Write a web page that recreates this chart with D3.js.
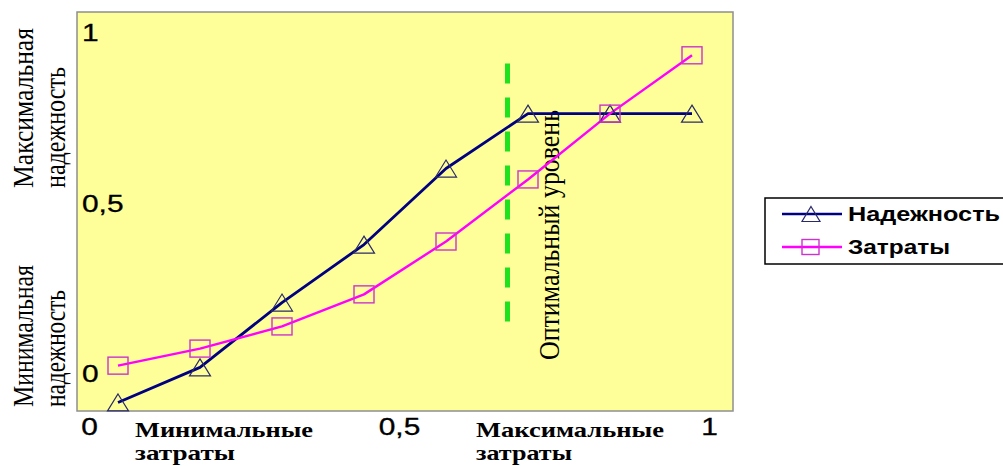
<!DOCTYPE html>
<html>
<head>
<meta charset="utf-8">
<script src="https://cdn.jsdelivr.net/npm/d3@7"></script>
<style>
  html, body { margin: 0; padding: 0; background: #ffffff; }
  svg { display: block; }
</style>
</head>
<body>
<svg id="chart" width="1003" height="466"></svg>
<script>
// Levels of the design alternatives (unlabelled steps along the cost axis)
const levels = [0, 1, 2, 3, 4, 5, 6, 7];
// Reliability (triangles) and costs (squares), relative units
const reliability = [-0.085, 0.018, 0.208, 0.378, 0.601, 0.762, 0.762, 0.762];
const costs       = [0.023, 0.073, 0.138, 0.232, 0.387, 0.569, 0.762, 0.933];
// Axis tick values and their printed labels
const yTicks = [0, 0.5, 1];
const xTicks = [0, 0.5, 1];
const tickText = ["0", "0,5", "1"];
// Optimal level marker (position on the level index) and its vertical extent
const optimumLevel = 4.75;
const optimumSpan = [0.152, 0.909];
const seriesNames = ["Надежность", "Затраты"];

const svg = d3.select("#chart");
const frame = { left: 77, right: 733, top: 12, bottom: 411 };

const x = d3.scalePoint().domain(levels).range([frame.left, frame.right]).padding(0.5);
const xIdx = d3.scaleLinear().domain([0, levels.length - 1]).range([x(levels[0]), x(levels[levels.length - 1])]);
const y = d3.scaleLinear().domain([-0.11, 1.06]).range([frame.bottom, frame.top]);
const xLab = d3.scaleLinear().domain([0, 1]).range([89, 709]);
const fmt = v => tickText[yTicks.indexOf(v)];
const sans = "'Liberation Sans', Arial, sans-serif";
const serif = "'Liberation Serif', 'Times New Roman', serif";

// Plot area
svg.append("rect")
  .attr("x", frame.left).attr("y", frame.top)
  .attr("width", frame.right - frame.left).attr("height", frame.bottom - frame.top)
  .attr("fill", "#ffff99").attr("stroke", "#8f8f8f").attr("stroke-width", 1.5);

// Y tick labels inside the plot area
const yAxis = svg.append("g")
  .attr("transform", `translate(${frame.left + 5},0)`)
  .call(d3.axisRight(y).tickValues(yTicks).tickSize(0).tickPadding(0).tickFormat(fmt));
yAxis.select(".domain").remove();
yAxis.selectAll("text")
  .attr("font-family", sans)
  .attr("font-size", 23).attr("fill", "#000")
  .attr("stroke", "#000").attr("stroke-width", 0.3)
  .attr("dy", "0.36em")
  .attr("transform", "scale(1.3,1)")
  .attr("x", 0);

// X tick labels under the plot area
const xAxis = svg.append("g")
  .attr("transform", `translate(0,${frame.bottom})`)
  .call(d3.axisBottom(xLab).tickValues(xTicks).tickSize(0).tickPadding(0).tickFormat(fmt));
xAxis.select(".domain").remove();
xAxis.selectAll("text")
  .attr("font-family", sans)
  .attr("font-size", 23).attr("fill", "#000")
  .attr("stroke", "#000").attr("stroke-width", 0.3)
  .attr("dy", null).attr("y", 24)
  .attr("transform", "scale(1.3,1)")
  .attr("x", 0);

// Optimal level: dashed green vertical line
svg.append("line")
  .attr("x1", xIdx(optimumLevel)).attr("x2", xIdx(optimumLevel))
  .attr("y1", y(optimumSpan[1])).attr("y2", y(optimumSpan[0]))
  .attr("stroke", "#1fe21f").attr("stroke-width", 5)
  .attr("stroke-dasharray", "20 14");

svg.append("text")
  .attr("transform", `translate(${xIdx(optimumLevel) + 51},360) rotate(-90)`)
  .attr("font-family", serif)
  .attr("font-size", 30).attr("fill", "#000")
  .attr("textLength", 250).attr("lengthAdjust", "spacingAndGlyphs")
  .text("Оптимальный уровень");

// Series lines
const line = d3.line().x((d, i) => x(levels[i])).y(d => y(d));
svg.append("path").datum(reliability)
  .attr("d", line).attr("fill", "none")
  .attr("stroke", "#000080").attr("stroke-width", 2.8).attr("stroke-linejoin", "round");
svg.append("path").datum(costs)
  .attr("d", line).attr("fill", "none")
  .attr("stroke", "#ff00ff").attr("stroke-width", 2.4).attr("stroke-linejoin", "round");

// Markers
const triPath = "M0,-8.5L10.5,8.5L-10.5,8.5Z";
svg.append("g").selectAll("path").data(reliability).join("path")
  .attr("transform", (d, i) => `translate(${x(levels[i])},${y(d)})`)
  .attr("d", triPath).attr("fill", "none")
  .attr("stroke", "#2a2a6a").attr("stroke-width", 1.2);
svg.append("g").selectAll("rect").data(costs).join("rect")
  .attr("x", (d, i) => x(levels[i]) - 10).attr("y", d => y(d) - 8.5)
  .attr("width", 20).attr("height", 17)
  .attr("fill", "none").attr("stroke", "#cc33cc").attr("stroke-width", 1.4);

// Y side captions (rotated)
const sideCaps = [
  { t: "Максимальная", bx: 33, by: 188, len: 160 },
  { t: "надежность",   bx: 65, by: 188, len: 121 },
  { t: "Минимальная",  bx: 33, by: 407, len: 142 },
  { t: "надежность",   bx: 65, by: 407, len: 117 }
];
svg.append("g").selectAll("text").data(sideCaps).join("text")
  .attr("transform", d => `translate(${d.bx},${d.by}) rotate(-90)`)
  .attr("font-family", serif).attr("font-size", 30).attr("fill", "#000")
  .attr("textLength", d => d.len).attr("lengthAdjust", "spacingAndGlyphs")
  .text(d => d.t);

// X side captions
const bottomCaps = [
  { t: "Минимальные",  bx: 135, by: 437, len: 178 },
  { t: "затраты",      bx: 135, by: 460, len: 100 },
  { t: "Максимальные", bx: 476, by: 437, len: 188 },
  { t: "затраты",      bx: 476, by: 460, len: 96 }
];
svg.append("g").selectAll("text").data(bottomCaps).join("text")
  .attr("x", d => d.bx).attr("y", d => d.by)
  .attr("font-family", serif).attr("font-weight", "bold")
  .attr("font-size", 22).attr("fill", "#000")
  .attr("textLength", d => d.len).attr("lengthAdjust", "spacingAndGlyphs")
  .text(d => d.t);

// Legend
const lg = svg.append("g");
lg.append("rect")
  .attr("x", 765).attr("y", 198).attr("width", 260).attr("height", 66)
  .attr("fill", "#fff").attr("stroke", "#000").attr("stroke-width", 1.5);
const legendItems = [
  { name: seriesNames[0], color: "#000080", mk: "tri", ly: 214, ty: 221, len: 152 },
  { name: seriesNames[1], color: "#ff00ff", mk: "sq",  ly: 247, ty: 254, len: 102 }
];
legendItems.forEach(it => {
  lg.append("line").attr("x1", 782).attr("x2", 842).attr("y1", it.ly).attr("y2", it.ly)
    .attr("stroke", it.color).attr("stroke-width", 2.4);
  if (it.mk === "tri") {
    lg.append("path").attr("transform", `translate(811,${it.ly})`)
      .attr("d", "M0,-7.5L9,7.5L-9,7.5Z").attr("fill", "none")
      .attr("stroke", "#2a2a6a").attr("stroke-width", 1.2);
  } else {
    lg.append("rect").attr("x", 802).attr("y", it.ly - 7.5).attr("width", 17).attr("height", 15)
      .attr("fill", "none").attr("stroke", "#cc33cc").attr("stroke-width", 1.4);
  }
  lg.append("text").attr("x", 848).attr("y", it.ty)
    .attr("font-family", sans)
    .attr("font-weight", "bold").attr("font-size", 21).attr("fill", "#000")
    .attr("textLength", it.len).attr("lengthAdjust", "spacingAndGlyphs")
    .text(it.name);
});
</script>
</body>
</html>
